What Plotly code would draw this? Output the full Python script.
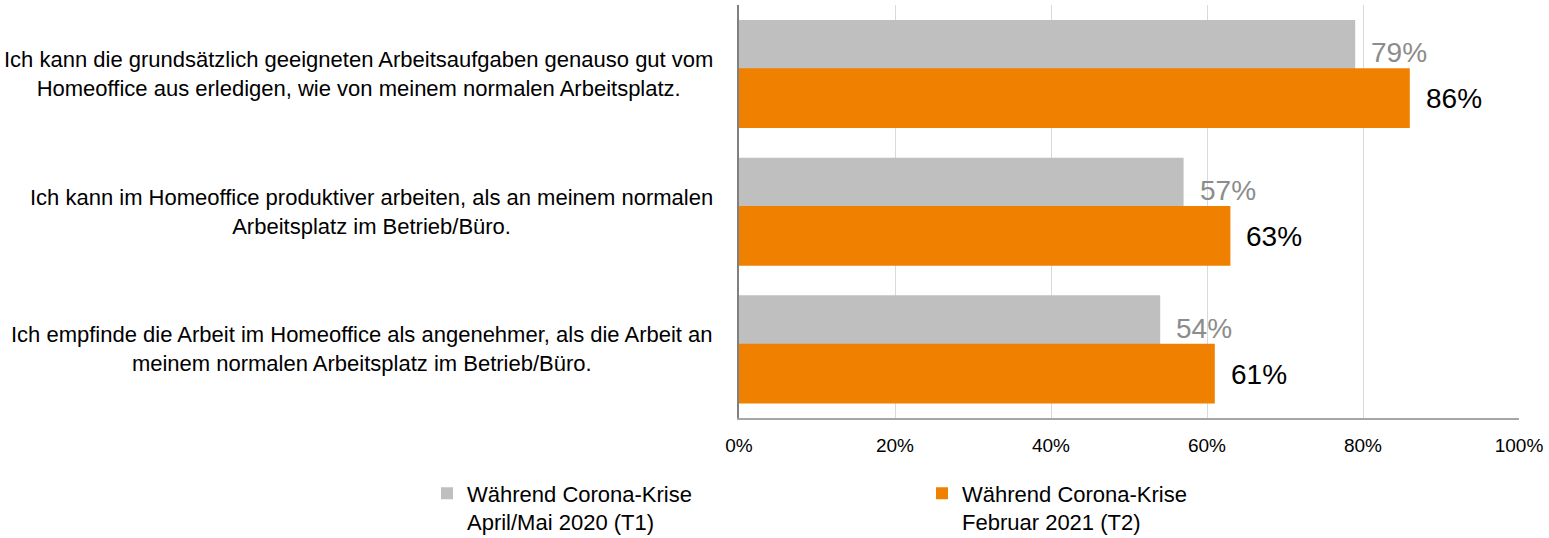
import plotly.graph_objects as go

categories = [
    "Ich kann die grundsätzlich geeigneten Arbeitsaufgaben genauso gut vom<br>Homeoffice aus erledigen, wie von meinem normalen Arbeitsplatz.",
    "Ich kann im Homeoffice produktiver arbeiten, als an meinem normalen<br>Arbeitsplatz im Betrieb/Büro.",
    "Ich empfinde die Arbeit im Homeoffice als angenehmer, als die Arbeit an<br>meinem normalen Arbeitsplatz im Betrieb/Büro.",
]
cat_keys = ["A", "B", "C"]
t1_values = [79, 57, 54]
t2_values = [86, 63, 61]
t1_name = "Während Corona-Krise<br>April/Mai 2020 (T1)"
t2_name = "Während Corona-Krise<br>Februar 2021 (T2)"
tick_vals = [0, 20, 40, 60, 80, 100]
tick_text = ["0%", "20%", "40%", "60%", "80%", "100%"]

FONT = "Liberation Sans Narrow, Arial Narrow, Liberation Sans, Arial, sans-serif"
GRAY = "#BFBFBF"
ORANGE = "#F08000"

fig = go.Figure()
fig.add_trace(go.Bar(
    y=cat_keys, x=t1_values, orientation="h", name=t1_name,
    marker=dict(color=GRAY, line=dict(width=0)),
    offset=-0.391, width=0.434, hoverinfo="skip",
))
fig.add_trace(go.Bar(
    y=cat_keys, x=t2_values, orientation="h", name=t2_name,
    marker=dict(color=ORANGE, line=dict(width=0)),
    offset=-0.04, width=0.434, hoverinfo="skip",
))

annotations = []
for k, label in zip(cat_keys, categories):
    annotations.append(dict(
        xref="paper", yref="y", x=0, y=k, xshift=-24,
        xanchor="right", yanchor="middle", align="center",
        text=label, showarrow=False,
        font=dict(family=FONT, size=22, color="#000000"),
    ))
for k, v in zip(cat_keys, t1_values):
    annotations.append(dict(
        xref="x", yref="y", x=v, y=k, xshift=14, yshift=21,
        xanchor="left", yanchor="middle",
        text=f"{v}%", showarrow=False,
        font=dict(family=FONT, size=28, color="#8C8C8C"),
    ))
for k, v in zip(cat_keys, t2_values):
    annotations.append(dict(
        xref="x", yref="y", x=v, y=k, xshift=14, yshift=-25,
        xanchor="left", yanchor="middle",
        text=f"{v}%", showarrow=False,
        font=dict(family=FONT, size=28, color="#000000"),
    ))

fig.update_layout(
    width=1549, height=538,
    margin=dict(l=739, r=30, t=5, b=120, autoexpand=False),
    paper_bgcolor="white", plot_bgcolor="white",
    barmode="overlay",
    font=dict(family=FONT, color="#000000"),
    showlegend=True,
    legend=dict(
        orientation="h", xref="paper", x=-0.4, xanchor="left",
        yref="paper", y=-0.132, yanchor="top",
        entrywidth=450, entrywidthmode="pixels", valign="top",
        font=dict(family=FONT, size=22, color="#000000"),
        traceorder="normal",
    ),
    annotations=annotations,
)
fig.update_xaxes(
    range=[0, 100], tickvals=tick_vals, ticktext=tick_text,
    showgrid=True, gridcolor="#D9D9D9", gridwidth=1,
    showline=True, linecolor="#A6A6A6", linewidth=1.5,
    zeroline=False, ticks="", ticklabelstandoff=9,
    tickfont=dict(family=FONT, size=19, color="#000000"),
    fixedrange=True, automargin=False,
)
fig.update_yaxes(
    categoryorder="array", categoryarray=cat_keys,
    range=[2.5, -0.5], showticklabels=False,
    showline=True, linecolor="#808080", linewidth=1.5,
    showgrid=False, zeroline=False, ticks="", fixedrange=True,
    automargin=False,
)

fig.write_html(
    "out.html",
    config={"displayModeBar": False},
    post_script="document.body.style.margin='0';document.body.style.padding='0';",
)
